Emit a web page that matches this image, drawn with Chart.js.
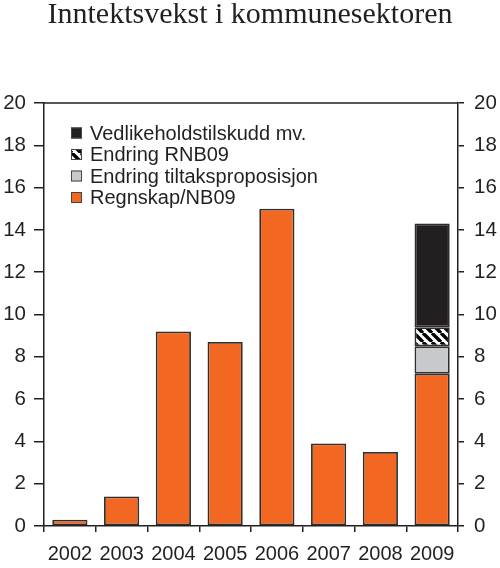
<!DOCTYPE html>
<html>
<head>
<meta charset="utf-8">
<script src="https://cdn.jsdelivr.net/npm/chart.js@4/dist/chart.umd.min.js"></script>
<style>
  html, body { margin: 0; padding: 0; background: #fff; }
  #boks { width: 500px; height: 568px; }
</style>
</head>
<body>
<div id="boks"><canvas id="graf"></canvas></div>
<script>
const aar = ['2002', '2003', '2004', '2005', '2006', '2007', '2008', '2009'];
const regnskap = [0.3, 1.4, 9.2, 8.7, 15.0, 3.9, 3.5, 7.2];
const tiltak = [null, null, null, null, null, null, null, 1.3];
const rnb = [null, null, null, null, null, null, null, 0.9];
const vedlikehold = [null, null, null, null, null, null, null, 4.9];
const yMin = 0, yMax = 20, ySteg = 2;

const tekstFarge = '#231f20';
const oransje = '#f26722';
const sans = '"Liberation Sans", Arial, sans-serif';

// skravur for Endring RNB09
function lagSkravur() {
    const c = document.createElement('canvas');
    c.width = 9; c.height = 9;
    const g = c.getContext('2d');
    g.fillStyle = '#fff';
    g.fillRect(0, 0, 9, 9);
    g.strokeStyle = '#000';
    g.lineWidth = 3.4;
    for (const k of [-9, 0, 9]) {
        g.beginPath();
        g.moveTo(k, 0);
        g.lineTo(k + 9, 9);
        g.stroke();
    }
    return g.createPattern(c, 'repeat');
}
const skravur = lagSkravur();

// ramme oppe + legende inne i plottet
const ekstra = {
    id: 'ekstra',
    afterDraw(chart) {
        const ctx = chart.ctx;
        const a = chart.chartArea;
        ctx.save();
        ctx.strokeStyle = tekstFarge;
        ctx.lineWidth = 1.5;
        ctx.beginPath();
        ctx.moveTo(a.left, a.top);
        ctx.lineTo(a.right, a.top);
        ctx.stroke();

        const ds = chart.data.datasets.slice().reverse();
        ctx.font = '20px ' + sans;
        ctx.textBaseline = 'middle';
        ds.forEach((d, i) => {
            const y = a.top + 30 + i * 21.5;
            const x = a.left + 27;
            ctx.fillStyle = d.backgroundColor;
            ctx.fillRect(x, y - 5.5, 11, 11);
            ctx.strokeStyle = '#444';
            ctx.lineWidth = 1;
            ctx.strokeRect(x + 0.5, y - 5, 10, 10);
            ctx.fillStyle = tekstFarge;
            ctx.fillText(d.label, x + 19, y + 1);
        });
        ctx.restore();
    }
};

function serie(navn, data, farge) {
    return {
        label: navn,
        data: data,
        backgroundColor: farge,
        borderColor: '#2e2e2e',
        borderWidth: 1.8,
        borderSkipped: false,
        barPercentage: 0.68,
        categoryPercentage: 1.0,
        yAxisID: 'y'
    };
}

const ctx = document.getElementById('graf').getContext('2d');
const chart = new Chart(ctx, {
    type: 'bar',
    data: {
        labels: aar,
        datasets: [
            serie('Regnskap/NB09', regnskap, oransje),
            serie('Endring tiltaksproposisjon', tiltak, '#c8c9cb'),
            serie('Endring RNB09', rnb, skravur),
            serie('Vedlikeholdstilskudd mv.', vedlikehold, '#231f20')
        ]
    },
    options: {
        responsive: true,
        maintainAspectRatio: false,
        animation: false,
        layout: { padding: 0 },
        plugins: {
            legend: { display: false },
            tooltip: { enabled: false },
            title: {
                display: true,
                text: 'Inntektsvekst i kommunesektoren',
                color: tekstFarge,
                font: { family: '"Liberation Serif", "Times New Roman", serif', size: 30, weight: 'normal', lineHeight: 1 },
                padding: { top: 0, bottom: 73 }
            }
        },
        scales: {
            x: {
                stacked: true,
                grid: { offset: true, drawOnChartArea: false, drawTicks: true, tickLength: 6, color: tekstFarge, lineWidth: 1.5 },
                border: { display: true, color: tekstFarge, width: 1.5 },
                ticks: { color: tekstFarge, padding: 10, font: { family: sans, size: 20 }, maxRotation: 0 },
                afterFit(s) { s.height = 42; }
            },
            y: {
                stacked: true,
                position: 'left',
                min: yMin, max: yMax,
                grid: { drawOnChartArea: false, drawTicks: true, tickLength: 10, color: tekstFarge, lineWidth: 1.5 },
                border: { display: true, color: tekstFarge, width: 1.5 },
                ticks: { stepSize: ySteg, color: tekstFarge, padding: 8, font: { family: sans, size: 20.5 } },
                afterFit(s) { s.width = 44; }
            },
            y2: {
                position: 'right',
                min: yMin, max: yMax,
                grid: { drawOnChartArea: false, drawTicks: true, tickLength: 6, color: tekstFarge, lineWidth: 1.5 },
                border: { display: true, color: tekstFarge, width: 1.5 },
                ticks: { stepSize: ySteg, color: tekstFarge, padding: 10, font: { family: sans, size: 20.5 } },
                afterFit(s) { s.width = 42; }
            }
        }
    },
    plugins: [ekstra]
});
</script>
</body>
</html>
